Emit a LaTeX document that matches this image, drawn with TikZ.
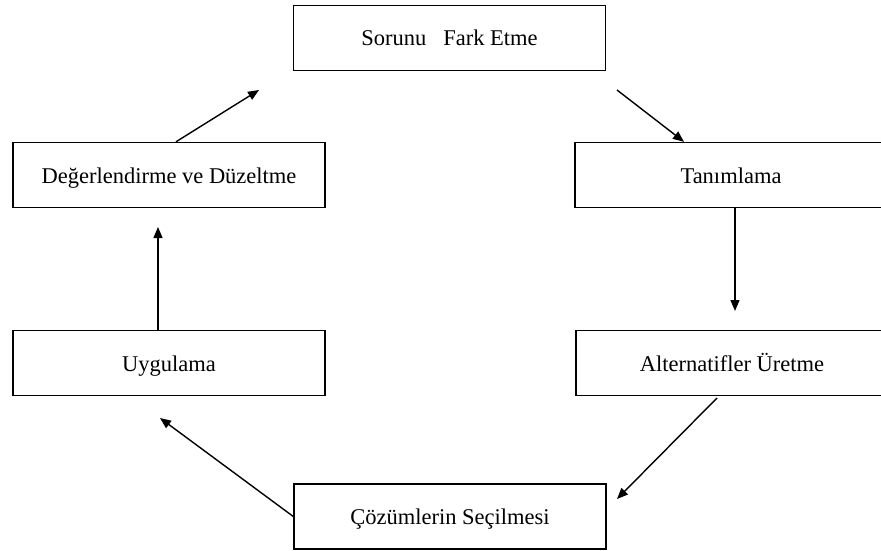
\documentclass[tikz,border=0pt]{standalone}
\usepackage{fontspec}
\setmainfont{Liberation Serif}
\usetikzlibrary{arrows.meta}
\begin{document}
\begin{tikzpicture}[x=1pt,y=-1pt,
  stepbox/.style={draw=black,line width=1.4pt,minimum width=312pt,minimum height=65pt,inner sep=0pt,text height=18pt,text depth=2pt,font=\fontsize{22.5}{26}\selectfont},
  conn/.style={line width=1.4pt,-{Triangle[length=11pt,width=9pt]}}]
\useasboundingbox (0,0) rectangle (881,551);
\clip (0,0) rectangle (881,551);
\node[stepbox] (sor) at (449.5,38) {Sorunu\ \ \ Fark Etme};
\node[stepbox] (tan) at (731,175) {Tanımlama};
\node[stepbox] (alt) at (732,363) {Alternatifler Üretme};
\node[stepbox] (coz) at (450,516.5) {Çözümlerin Seçilmesi};
\node[stepbox] (uyg) at (169,363) {Uygulama};
\node[stepbox] (deg) at (169,175) {Değerlendirme ve Düzeltme};
\coordinate (c1) at (259,90);
\coordinate (c2) at (617,90);
\coordinate (c3) at (735,311);
\coordinate (c4) at (717,398);
\coordinate (c5) at (617,499);
\coordinate (c6) at (160,418);
\coordinate (c7) at (158,227);
\draw[conn] ([xshift=7pt]deg.north) -- (c1);
\draw[conn] (c2) -- ([xshift=-47pt]tan.north);
\draw[conn] ([xshift=4pt]tan.south) -- (c3);
\draw[conn] (c4) -- (c5);
\draw[conn] (coz.west) -- (c6);
\draw[conn] ([xshift=-11pt]uyg.north) -- (c7);
\end{tikzpicture}
\end{document}
